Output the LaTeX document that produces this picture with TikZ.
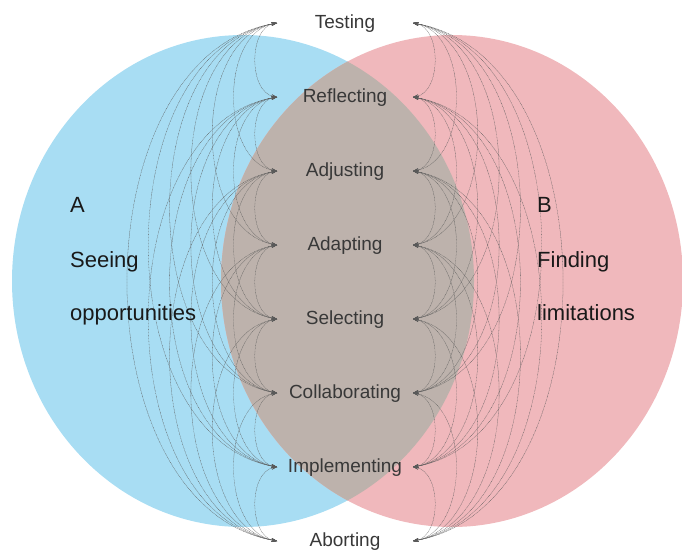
\documentclass[tikz,border=0pt]{standalone}
\usepackage{fontspec}
\setmainfont{Liberation Sans}
\usetikzlibrary{arrows.meta}
\definecolor{cblue}{HTML}{A8DDF3}
\definecolor{cpink}{HTML}{F0B8BC}
\definecolor{cgray}{HTML}{BDB2AC}
\definecolor{ctext}{HTML}{383838}
\begin{document}
\begin{tikzpicture}[x=1pt,y=-1pt,
  stage/.style={font=\fontsize{19}{19}\selectfont, text=ctext, inner sep=0pt, anchor=base},
  side/.style={font=\fontsize{22}{22}\selectfont, text=black!90, anchor=base west, inner sep=0pt},
  tip/.tip={Stealth[length=5.5pt,width=3.8pt]},
  link/.style={draw=black!65, line width=0.3pt, dash pattern=on 0.9pt off 0.6pt, tip-tip},
]
\useasboundingbox (0,0) rectangle (682,550);
\fill[cblue] (243,281) ellipse [x radius=231, y radius=246];
\fill[cpink] (452,281) ellipse [x radius=231, y radius=246];
\begin{scope}
  \clip (243,281) ellipse [x radius=231, y radius=246];
  \fill[cgray] (452,281) ellipse [x radius=231, y radius=246];
\end{scope}
\foreach \lab [count=\i from 0] in {Testing,Reflecting,Adjusting,Adapting,Selecting,Collaborating,Implementing,Aborting}{
  \pgfmathsetmacro\yy{23+74.0*\i}
  \node[stage] (n\i) at (345,\yy+5.5) {\lab};
  \coordinate (L\i) at (277,\yy);
  \coordinate (R\i) at (413,\yy);
}
\foreach \i in {0,...,6}{
  \pgfmathtruncatemacro\k{\i+1}
  \foreach \j in {\k,...,7}{
    \draw[link] (L\i) to[bend right=80] (L\j);
    \draw[link] (R\i) to[bend left=80] (R\j);
  }
}
\node[side] (a) at (70,212) {A};
\node[side] (a1) at (70,267) {Seeing};
\node[side] (a2) at (70,320) {opportunities};
\node[side] (b) at (537,212) {B};
\node[side] (b1) at (537,267) {Finding};
\node[side] (b2) at (537,320) {limitations};
\end{tikzpicture}
\end{document}
